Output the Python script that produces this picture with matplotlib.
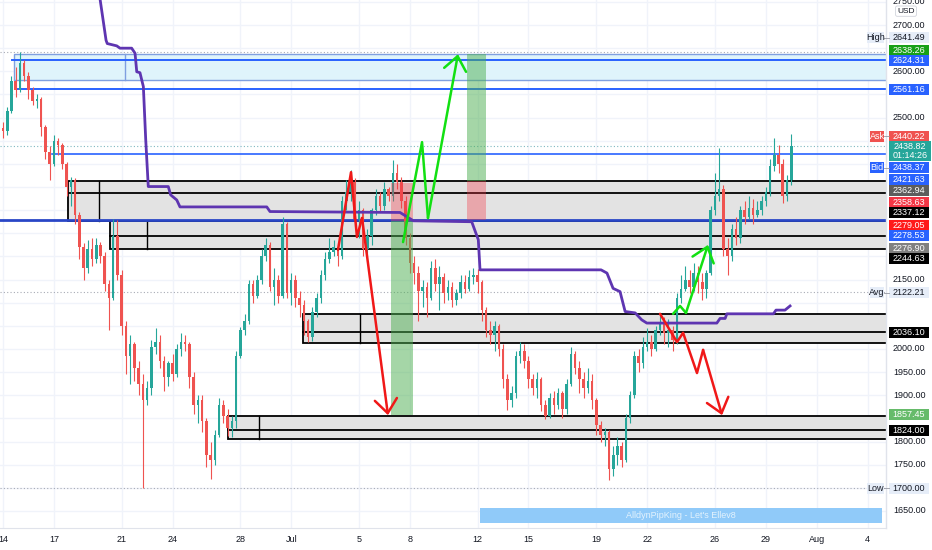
import matplotlib
matplotlib.use("Agg")
import matplotlib.pyplot as plt
from matplotlib.patches import Rectangle
import numpy as np

plt.rcParams['font.family'] = ['Liberation Sans', 'DejaVu Sans']

# 6h candles, x measured in days from Jun 14 00:00
t_first = -0.25
t_step = 0.25
first_open = 2500

closes = [2478, 2470, 2515, 2580, 2560, 2618, 2590, 2560, 2535, 2540,
          2480, 2425, 2400, 2450, 2440, 2400, 2350, 2365, 2290, 2220,
          2175, 2215, 2195, 2225, 2200, 2140, 2110, 2245, 2160, 2050,
          1985, 2010, 1960, 1925, 1890, 1915, 2005, 2015, 1975, 1940,
          1970, 1945, 2000, 2015, 2010, 1940, 1880, 1890, 1845, 1770,
          1760, 1815, 1880, 1855, 1830, 1845, 1985, 2040, 2060, 2140,
          2115, 2150, 2200, 2225, 2135, 2150, 2115, 2270, 2120, 2150,
          2110, 2095, 2060, 2025, 2080, 2110, 2160, 2195, 2210, 2220,
          2200, 2320, 2340, 2360, 2280, 2300, 2215, 2245, 2300, 2330,
          2310, 2345, 2330, 2380, 2360, 2320, 2240, 2185, 2165, 2125,
          2135, 2110, 2175, 2140, 2155, 2120, 2135, 2105, 2120, 2145,
          2130, 2155, 2160, 2145, 2085, 2040, 2030, 2050, 2000, 1935,
          1890, 1905, 1985, 1995, 1975, 1935, 1915, 1935, 1880, 1855,
          1895, 1880, 1905, 1870, 1925, 1990, 1960, 1935, 1915, 1930,
          1890, 1835, 1815, 1820, 1740, 1770, 1790, 1760, 1850, 1900,
          1985, 1970, 2005, 2015, 2000, 2040, 2055, 2035, 2040, 2020,
          2110, 2130, 2150, 2135, 2165, 2145, 2130, 2165, 2300, 2330,
          2345, 2215, 2200, 2260, 2240, 2300, 2285, 2305, 2290, 2300,
          2320, 2340, 2395, 2420, 2400, 2330, 2365, 2438.82]
highs = [2510, 2490, 2522, 2590, 2610, 2641.49, 2625, 2598, 2566, 2552,
         2545, 2485, 2438, 2462, 2455, 2445, 2405, 2372, 2370, 2295,
         2230, 2235, 2240, 2240, 2232, 2210, 2150, 2280, 2278, 2170,
         2060, 2030, 2015, 1975, 1945, 1930, 2020, 2045, 2030, 1985,
         1975, 1990, 2010, 2035, 2030, 2015, 1950, 1900, 1900, 1850,
         1800, 1825, 1895, 1890, 1870, 1855, 1995, 2048, 2075, 2150,
         2148, 2160, 2215, 2240, 2232, 2175, 2160, 2285, 2275, 2165,
         2160, 2125, 2105, 2065, 2090, 2120, 2170, 2210, 2240, 2235,
         2230, 2330, 2365, 2387, 2370, 2320, 2305, 2260, 2305, 2345,
         2340, 2360, 2350, 2408, 2400, 2372, 2330, 2250, 2200, 2180,
         2150, 2145, 2190, 2195, 2180, 2165, 2150, 2145, 2130, 2160,
         2160, 2170, 2175, 2172, 2150, 2090, 2060, 2060, 2055, 2010,
         1945, 1920, 1995, 2015, 2010, 1985, 1945, 1950, 1940, 1890,
         1905, 1910, 1915, 1910, 1935, 2005, 1995, 1975, 1950, 1960,
         1945, 1895, 1845, 1830, 1825, 1790, 1810, 1800, 1860, 1910,
         1995, 2000, 2025, 2045, 2030, 2050, 2078, 2070, 2065, 2050,
         2120, 2160, 2180, 2170, 2185, 2180, 2165, 2170, 2310, 2380,
         2434, 2355, 2240, 2270, 2285, 2310, 2320, 2330, 2325, 2320,
         2330, 2350, 2410, 2455, 2440, 2410, 2375, 2465]
lows = [2470, 2455, 2462, 2510, 2545, 2555, 2580, 2540, 2528, 2520,
        2460, 2410, 2365, 2395, 2420, 2390, 2330, 2310, 2270, 2195,
        2150, 2165, 2180, 2185, 2185, 2125, 2041, 2105, 2150, 2030,
        1945, 1925, 1930, 1900, 1700, 1880, 1900, 1990, 1960, 1910,
        1920, 1930, 1940, 1985, 1995, 1915, 1860, 1840, 1820, 1745,
        1720, 1750, 1810, 1840, 1812, 1810, 1830, 1980, 2030, 2055,
        2100, 2110, 2140, 2190, 2125, 2095, 2100, 2110, 2110, 2095,
        2090, 2070, 2030, 2015, 2018, 2070, 2100, 2150, 2185, 2200,
        2180, 2195, 2300, 2320, 2265, 2240, 2200, 2190, 2225, 2290,
        2295, 2300, 2320, 2320, 2345, 2305, 2225, 2165, 2140, 2060,
        2090, 2070, 2105, 2125, 2085, 2100, 2105, 2090, 2095, 2110,
        2120, 2125, 2140, 2120, 2060, 2025, 2010, 1995, 1985, 1915,
        1868, 1875, 1895, 1970, 1960, 1915, 1900, 1895, 1865, 1848,
        1850, 1860, 1870, 1850, 1860, 1920, 1945, 1905, 1895, 1905,
        1870, 1815, 1800, 1790, 1717, 1725, 1750, 1745, 1755, 1840,
        1895, 1950, 1960, 1995, 1985, 1995, 2030, 2010, 2005, 1995,
        2010, 2100, 2125, 2120, 2125, 2120, 2105, 2110, 2160, 2290,
        2320, 2200, 2160, 2190, 2225, 2230, 2270, 2280, 2270, 2285,
        2290, 2310, 2330, 2385, 2380, 2315, 2320, 2355]

# date ticks (days from Jun 14)
tick_days = [0, 3, 7, 10, 14, 17, 21, 24, 28, 31, 35, 38, 42, 45, 48, 51]
tick_names = ['14', '17', '21', '24', '28', 'Jul', '5', '8', '12', '15',
              '19', '22', '26', '29', 'Aug', '4']

# purple stepped indicator (day, price)
purple_x = [5.65, 6.08, 6.15, 6.71, 6.90, 7.59, 7.79, 7.89, 8.08, 8.28, 8.42,
            8.57, 9.75, 9.89, 10.25, 10.44, 15.56, 15.75, 23.42, 23.82, 24.21,
            27.65, 28.04, 28.14, 35.28, 35.63, 35.99, 36.40, 36.70, 37.29,
            37.68, 37.98, 42.11, 42.30, 42.60, 42.70, 45.45, 45.60, 46.13, 46.43]
purple_p = [2775, 2667, 2660, 2655, 2650, 2650, 2639, 2599, 2597, 2567, 2452,
            2351, 2351, 2333, 2322, 2307, 2307, 2297, 2295, 2286, 2277,
            2275, 2236, 2171, 2171, 2164, 2131, 2124, 2081, 2078,
            2063, 2056, 2056, 2066, 2066, 2076, 2076, 2084, 2084, 2093]

# hand-drawn projection arrows (day, price)
red1_x = [19.76, 20.53, 20.88, 21.18, 22.71]
red1_p = [2214, 2382, 2242, 2283, 1857]
green1_x = [23.60, 24.72, 25.07, 26.84]
green1_p = [2231, 2447, 2283, 2637]
green2_x = [39.53, 39.94, 40.29, 41.59]
green2_p = [2076, 2093, 2078, 2225]
red2_x = [38.76, 39.76, 40.12, 40.94, 41.30, 42.42]
red2_p = [2076, 2015, 2035, 1948, 1998, 1857]

# gray zones: start day, split day, top, mid, bottom
zone_start = [3.83, 6.31, 17.70, 13.27]
zone_split = [5.66, 8.50, 21.06, 15.10]
zone_top = [2362.94, 2276.90, 2076, 1855]
zone_mid = [2337.12, 2244.63, 2036.10, 1824.00]
zone_bot = [2276.90, 2215, 2014, 1805]

# long / short position tools
long_x = (27.37, 28.50)
long_entry, long_stop, long_target = 2362.94, 2279.05, 2638.26
short_x = (22.89, 24.17)
short_entry, short_stop, short_target = 2276.90, 2358.63, 1857.45

# right scale labels: value, colour, side tag
label_vals = [2641.49, 2638.26, 2624.31, 2561.16, 2440.22, 2438.82, 2438.37,
              2421.63, 2362.94, 2358.63, 2337.12, 2279.05, 2278.53, 2276.90,
              2244.63, 2122.21, 2036.10, 1857.45, 1824.00, 1700.00]
label_cols = ['#e6edf8', '#18a018', '#2962ff', '#2962ff', '#ef5350', '#26a69a',
              '#2962ff', '#2962ff', '#5d5d5d', '#f23645', '#000000', '#ff1a1a',
              '#2962ff', '#808080', '#000000', '#e6edf8', '#000000', '#66bb6a',
              '#000000', '#e6edf8']
label_tags = {0: 'High', 4: 'Ask', 6: 'Bid', 15: 'Avg', 19: 'Low'}
# where the stacked labels end up on the scale (price units)
label_slots = [2672.0, 2643.9, 2622.3, 2559.7, 2460.2, 2427.8, 2391.1, 2367.3,
               2341.4, 2317.6, 2293.9, 2267.9, 2244.2, 2218.2, 2194.5, 2121.0,
               2034.6, 1859.5, 1822.8, 1699.6]

up_col = '#26a69a'
dn_col = '#ef5350'
grid_col = '#f0f3fa'
px = 2.1608  # price units per pixel

fig = plt.figure(figsize=(9.32, 5.5), dpi=100)
ax = fig.add_axes([0, 22 / 550, 886 / 932, 528 / 550])
ax.set_xlim(-0.177, 52.09)
ax.set_ylim(1613.2, 2754.1)
xr = 52.09

for d in tick_days:
    ax.axvline(d, color=grid_col, lw=1, zorder=0)
for p in range(1650, 2751, 50):
    ax.axhline(p, color=grid_col, lw=1, zorder=0)

# top supply box and blue rays
ax.add_patch(Rectangle((0.65, 2581), xr, 2638 - 2581, facecolor='#dff4fb',
                       edgecolor='#7f9fe0', lw=1, zorder=1))
ax.plot([7.2, 7.2], [2581, 2638], color='#7f9fe0', lw=1, zorder=1)
ax.plot([0.53, xr], [2624.31, 2624.31], color='#2962ff', lw=1.4, zorder=2)
ax.plot([0.71, xr], [2561.16, 2561.16], color='#2962ff', lw=1.4, zorder=2)
ax.plot([2.89, xr], [2421.63, 2421.63], color='#2962ff', lw=1.2, zorder=2)

# gray zones
for s, sp, t, m, b in zip(zone_start, zone_split, zone_top, zone_mid, zone_bot):
    ax.add_patch(Rectangle((s, b), xr - s + 1, t - b, facecolor='#e3e3e3',
                           edgecolor='black', lw=1.3, zorder=1))
    ax.plot([s, xr], [m, m], color='black', lw=1.3, zorder=2)
    ax.plot([sp, sp], [b, t], color='black', lw=1, zorder=2)

ax.plot([-0.2, xr], [2278.53, 2278.53], color='#2946c6', lw=2, zorder=2)

# dotted info lines
dot = dict(color='#a8abb5', lw=0.8, linestyle=(0, (1, 2)), zorder=2)
ax.axhline(max(highs), **dot)
ax.axhline(min(lows), **dot)
ax.axhline(2122.21, **dot)
ax.axhline(closes[-1], color='#7fb8c0', lw=0.8, linestyle=(0, (1, 2)), zorder=2)

# candles
n = len(closes)
cx = t_first + t_step * np.arange(n)
c = np.array(closes, dtype=float)
o = np.r_[first_open, c[:-1]]
col = np.where(c >= o, up_col, dn_col)
ax.vlines(cx, lows, highs, colors=col, lw=0.8, zorder=3)
body = np.maximum(np.abs(c - o), 3)
ax.bar(cx, body, bottom=np.minimum(o, c), width=0.15, color=col, zorder=3)

# position tools
lw_, rw_ = long_x
ax.add_patch(Rectangle((lw_, long_entry), rw_ - lw_, long_target - long_entry,
                       facecolor='#4caf50', alpha=0.5, lw=0, zorder=4))
ax.add_patch(Rectangle((lw_, long_stop), rw_ - lw_, long_entry - long_stop,
                       facecolor='#f23645', alpha=0.35, lw=0, zorder=4))
lw_, rw_ = short_x
ax.add_patch(Rectangle((lw_, short_target), rw_ - lw_, short_entry - short_target,
                       facecolor='#4caf50', alpha=0.5, lw=0, zorder=4))
ax.add_patch(Rectangle((lw_, short_entry), rw_ - lw_, short_stop - short_entry,
                       facecolor='#f23645', alpha=0.35, lw=0, zorder=4))

# purple indicator
ax.plot(purple_x, purple_p, color='#5e35b1', lw=2, zorder=5)


def arrow(xs, ps, colr):
    ax.plot(xs[:-1], ps[:-1], color=colr, lw=1.8, zorder=6, solid_capstyle='round')
    ax.annotate('', xy=(xs[-1], ps[-1]), xytext=(xs[-2], ps[-2]), zorder=6,
                arrowprops=dict(arrowstyle='->,head_length=0.5,head_width=0.4',
                                color=colr, lw=1.8, mutation_scale=20,
                                shrinkA=0, shrinkB=0))


arrow(red1_x, red1_p, '#f01818')
arrow(red2_x, red2_p, '#f01818')
arrow(green1_x, green1_p, '#12e012')
arrow(green2_x, green2_p, '#12e012')

# signature banner
ax.add_patch(Rectangle((28.14, 1624), 51.86 - 28.14, 32, facecolor='#90caf9',
                       lw=0, zorder=6))
ax.text((28.14 + 51.86) / 2, 1640, "AlldynPipKing - Let's Ellev8", color='#e3f2fd',
        fontsize=6.5, ha='center', va='center', zorder=7)

ax.set_xticks(tick_days)
ax.set_xticklabels(tick_names, fontsize=6.5, color='#131722')
ax.tick_params(axis='x', length=0, pad=5)
ax.set_yticks([])
for s in ['top', 'left', 'right']:
    ax.spines[s].set_visible(False)
ax.spines['bottom'].set_color('#e0e3eb')

# price scale
pax = fig.add_axes([886 / 932, 22 / 550, 46 / 932, 528 / 550])
pax.set_xlim(0, 46)
pax.set_ylim(1613.2, 2754.1)
pax.axis('off')
pax.plot([0, 0], [1613.2, 2754.1], color='#e0e3eb', lw=1, clip_on=False)
for p in range(1650, 2751, 50):
    # scale ticks hidden behind a price label are not drawn
    if min(abs(p - s) for s in label_slots) < 10 * px:
        continue
    pax.text(7, p, f'{p:.2f}', fontsize=6.5, color='#131722', va='center',
             ha='left', clip_on=False)
pax.text(20, 2730, 'USD', fontsize=6, color='#131722', ha='center', va='center',
         bbox=dict(boxstyle='round,pad=0.2', fc='white', ec='#d1d4dc', lw=0.6))

h = 11 * px
for i, (v, cl, slot) in enumerate(zip(label_vals, label_cols, label_slots)):
    light = cl == '#e6edf8'
    fg = '#131722' if light else 'white'
    if i == 5:
        hh = 20 * px
        pax.add_patch(Rectangle((3, slot - hh / 2), 42, hh, facecolor=cl, lw=0,
                                clip_on=False, zorder=5))
        pax.text(24, slot + 4.3 * px, f'{v:.2f}', fontsize=6.5, color=fg,
                 ha='center', va='center', zorder=6, clip_on=False)
        pax.text(24, slot - 4.7 * px, '01:14:26', fontsize=6.5, color=fg,
                 ha='center', va='center', zorder=6, clip_on=False)
        continue
    pax.add_patch(Rectangle((3, slot - h / 2), 40, h, facecolor=cl, lw=0,
                            clip_on=False, zorder=5))
    pax.text(23, slot, f'{v:.2f}', fontsize=6.5, color=fg, ha='center',
             va='center', zorder=6, clip_on=False)
    if i in label_tags:
        tag = label_tags[i]
        tw = 17 if tag in ('High', 'Low') else 14
        pax.add_patch(Rectangle((-2 - tw, slot - h / 2), tw, h, facecolor=cl,
                                lw=0, clip_on=False, zorder=5))
        pax.text(-2 - tw / 2, slot, tag, fontsize=6.5, color=fg, ha='center',
                 va='center', zorder=6, clip_on=False)
        pax.plot([-2, 3], [slot, slot], color='#9598a1', lw=0.6, clip_on=False,
                 zorder=5)

fig.savefig('out.png', dpi=100, facecolor='white')
